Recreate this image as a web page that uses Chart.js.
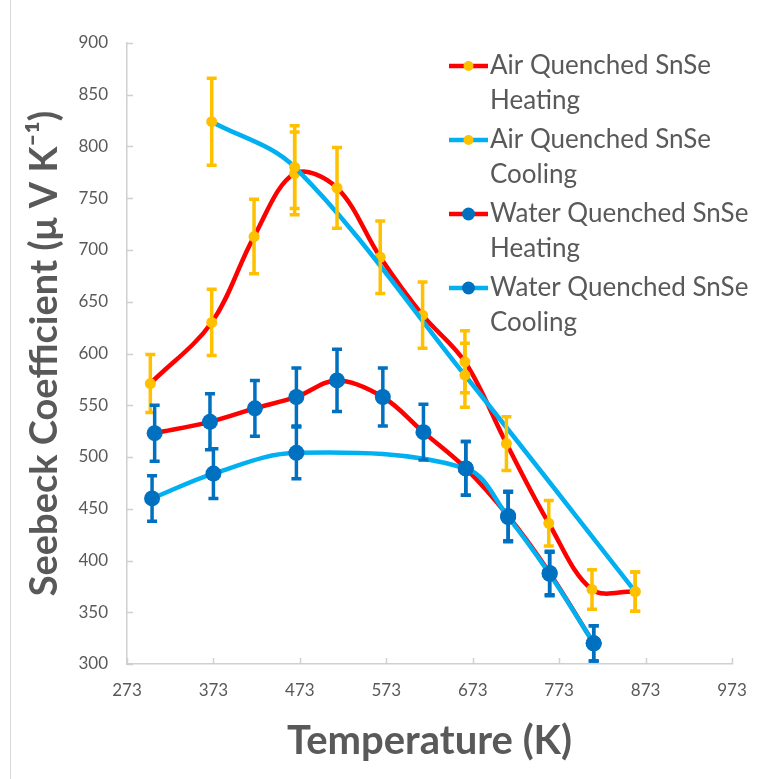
<!DOCTYPE html>
<html>
<head>
<meta charset="utf-8">
<script src="https://cdn.jsdelivr.net/npm/chart.js@4.4.1/dist/chart.umd.min.js"></script>
<style>
  html, body { margin: 0; padding: 0; background: #ffffff; }
  #wrap { width: 782px; height: 779px; position: relative; }
</style>
</head>
<body>
<div id="wrap"><canvas id="c" width="782" height="779"></canvas></div>
<script>
// ---- data ----
const xTicks = [273, 373, 473, 573, 673, 773, 873, 973];
const yTicks = [300, 350, 400, 450, 500, 550, 600, 650, 700, 750, 800, 850, 900];

const seriesNames = [
  ["Air Quenched SnSe", "Heating"],
  ["Air Quenched SnSe", "Cooling"],
  ["Water Quenched SnSe", "Heating"],
  ["Water Quenched SnSe", "Cooling"]
];

const airHeatT   = [300, 371, 420, 467, 516, 566, 615, 664, 712, 761, 811, 861];
const airHeatS   = [571, 630, 713, 774, 760, 693, 637, 592, 513, 436, 372, 370];
const airHeatErr = [28, 32, 36, 40, 39, 35, 32, 30, 26, 22, 19, 19];

const airCoolT   = [371, 467, 664, 861];
const airCoolS   = [824, 780, 579, 370];
const airCoolErr = [42, 40, 31, 19];

const waterHeatT   = [305, 369, 421, 469, 516, 569, 616, 665, 714, 762, 813];
const waterHeatS   = [523, 534, 547, 558, 574, 558, 524, 489, 443, 388, 320];
const waterHeatErr = [27, 27, 27, 28, 30, 28, 27, 26, 24, 21, 17];

const waterCoolT   = [302, 373, 469, 665, 714, 762, 813];
const waterCoolS   = [460, 484, 504, 489, 442, 387, 320];
const waterCoolErr = [22, 24, 25, 26, 24, 21, 17];

// ---- styling ----
const RED = '#FF0000', LBLUE = '#00B0F0', YEL = '#FFC000', DBLUE = '#0070C0';
const TXT = '#595959', AXIS = '#D0D0D0';
const FONT = 'Lato, "Open Sans", "DejaVu Sans", sans-serif';

function pts(xs, ys) { return xs.map((x, i) => ({x: x, y: ys[i]})); }

const seriesDefs = [
  {T: airHeatT, S: airHeatS, E: airHeatErr, line: RED, mark: YEL, r: 5.5},
  {T: airCoolT, S: airCoolS, E: airCoolErr, line: LBLUE, mark: YEL, r: 5.5},
  {T: waterHeatT, S: waterHeatS, E: waterHeatErr, line: RED, mark: DBLUE, r: 8},
  {T: waterCoolT, S: waterCoolS, E: waterCoolErr, line: LBLUE, mark: DBLUE, r: 8}
];

const datasets = seriesDefs.map((d, i) => ({
  label: seriesNames[i].join(' '),
  data: pts(d.T, d.S),
  borderColor: d.line,
  backgroundColor: d.mark,
  pointBackgroundColor: d.mark,
  pointBorderColor: d.mark,
  pointBorderWidth: 0,
  pointRadius: d.r,
  pointHoverRadius: d.r,
  borderWidth: 4.5,
  tension: 0.35,
  fill: false,
  order: 4 - i
}));

// error bars + inward ticks + legend + frame
const extras = {
  id: 'extras',
  afterDatasetsDraw(chart) {
    const ctx = chart.ctx, xs = chart.scales.x, ys = chart.scales.y;
    ctx.save();
    seriesDefs.forEach(d => {
      ctx.strokeStyle = d.mark;
      ctx.lineWidth = 3.5;
      ctx.lineCap = 'butt';
      d.T.forEach((t, i) => {
        const px = xs.getPixelForValue(t);
        const y1 = ys.getPixelForValue(d.S[i] + d.E[i]);
        const y2 = ys.getPixelForValue(d.S[i] - d.E[i]);
        ctx.beginPath();
        ctx.moveTo(px, y1); ctx.lineTo(px, y2);
        ctx.moveTo(px - 5, y1); ctx.lineTo(px + 5, y1);
        ctx.moveTo(px - 5, y2); ctx.lineTo(px + 5, y2);
        ctx.stroke();
      });
    });
    ctx.restore();
  },
  afterDraw(chart) {
    const ctx = chart.ctx, xs = chart.scales.x, ys = chart.scales.y;
    const ca = chart.chartArea;
    ctx.save();
    // inward tick marks
    ctx.strokeStyle = AXIS;
    ctx.lineWidth = 1.5;
    ctx.beginPath();
    yTicks.forEach(v => {
      const py = Math.round(ys.getPixelForValue(v)) + 0.5;
      ctx.moveTo(ca.left, py); ctx.lineTo(ca.left + 6, py);
    });
    xTicks.forEach(v => {
      const px = Math.round(xs.getPixelForValue(v)) + 0.5;
      ctx.moveTo(px, ca.bottom); ctx.lineTo(px, ca.bottom - 6);
    });
    ctx.stroke();
    // frame line at left
    ctx.strokeStyle = '#D9D9D9';
    ctx.lineWidth = 1;
    ctx.beginPath();
    ctx.moveTo(10.5, 0); ctx.lineTo(10.5, chart.height);
    ctx.stroke();

    // legend
    const lx0 = 449, lx1 = 488, tx = 490;
    ctx.font = '26px ' + FONT;
    ctx.textBaseline = 'middle';
    ctx.textAlign = 'left';
    seriesDefs.forEach((d, i) => {
      const y = 66 + 74 * i;
      ctx.strokeStyle = d.line;
      ctx.lineWidth = 4.5;
      ctx.beginPath();
      ctx.moveTo(lx0, y); ctx.lineTo(lx1, y);
      ctx.stroke();
      ctx.fillStyle = d.mark;
      ctx.beginPath();
      ctx.arc((lx0 + lx1) / 2, y, d.r === 8 ? 6.5 : 5, 0, Math.PI * 2);
      ctx.fill();
      ctx.fillStyle = TXT;
      ctx.fillText(seriesNames[i][0], tx, y);
      ctx.fillText(seriesNames[i][1], tx, y + 35);
    });
    ctx.restore();
  }
};

new Chart(document.getElementById('c'), {
  type: 'line',
  data: { datasets: datasets },
  plugins: [extras],
  options: {
    responsive: false,
    animation: false,
    events: [],
    layout: { padding: { top: 43, right: 50, left: 0, bottom: 0 } },
    plugins: { legend: { display: false }, tooltip: { enabled: false } },
    scales: {
      x: {
        type: 'linear',
        min: 273, max: 973,
        afterFit(s) { s.height = 115; },
        afterBuildTicks(s) { s.ticks = xTicks.map(v => ({value: v})); },
        ticks: { stepSize: 100, color: TXT, font: { family: FONT, size: 17 }, padding: 16, maxRotation: 0, autoSkip: false },
        grid: { display: true, drawOnChartArea: false, drawTicks: false },
        border: { color: AXIS, width: 1.5 },
        title: { display: true, text: 'Temperature (K)', color: TXT,
                 font: { family: FONT, size: 40, weight: 'bold' }, padding: { bottom: 14 } }
      },
      y: {
        type: 'linear',
        min: 300, max: 900,
        afterFit(s) { s.width = 127; },
        afterBuildTicks(s) { s.ticks = yTicks.map(v => ({value: v})); },
        ticks: { stepSize: 50, color: TXT, font: { family: FONT, size: 17 }, padding: 19 },
        grid: { display: true, drawOnChartArea: false, drawTicks: false },
        border: { color: AXIS, width: 1.5 },
        title: { display: true, text: 'Seebeck Coefficient (μ V K⁻¹)', color: TXT,
                 font: { family: FONT, size: 38, weight: 'bold' }, padding: { top: 22 } }
      }
    }
  }
});
</script>
</body>
</html>
